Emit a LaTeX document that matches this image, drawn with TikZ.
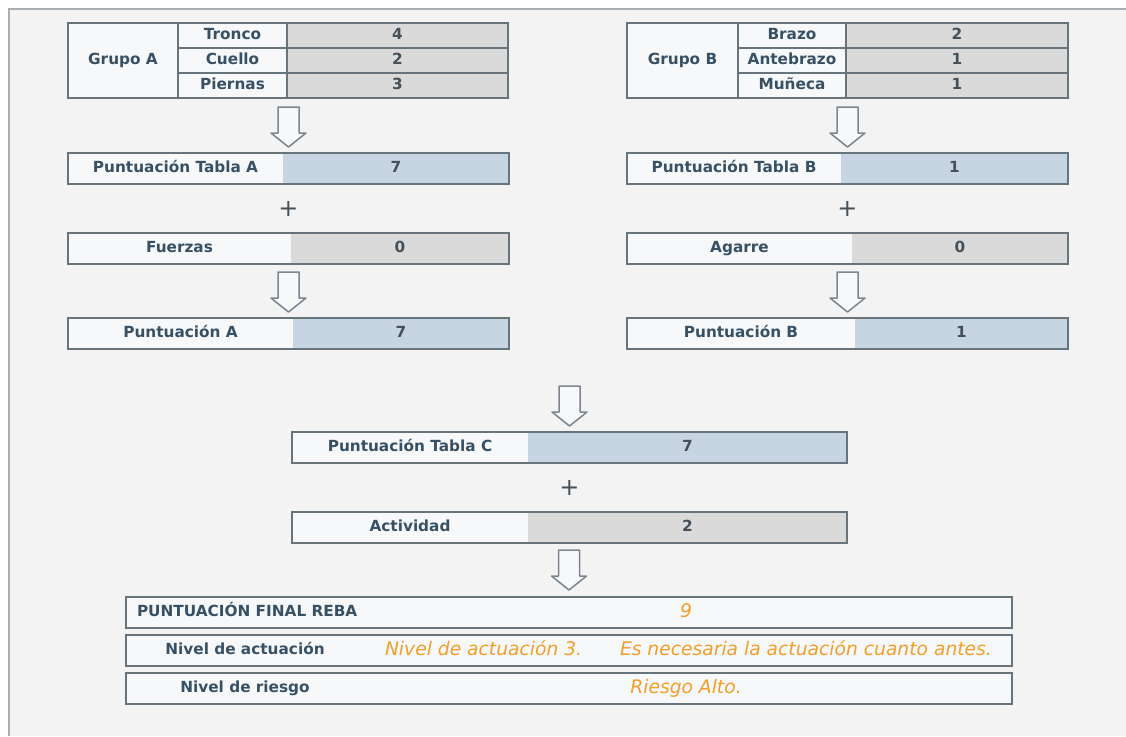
\documentclass[tikz,border=0pt]{standalone}
\usepackage{fontspec}
\setmainfont{DejaVu Sans}
\usepackage{tikz}
\usetikzlibrary{calc}
\usetikzlibrary{positioning}
\definecolor{framegray}{RGB}{168,173,178}
\definecolor{pagebg}{RGB}{243,243,243}
\definecolor{cellline}{RGB}{104,116,124}
\definecolor{labfill}{RGB}{246,248,250}
\definecolor{grayval}{RGB}{218,218,218}
\definecolor{blueval}{RGB}{199,212,225}
\definecolor{labtext}{RGB}{55,80,100}
\definecolor{valtext}{RGB}{70,80,90}
\definecolor{orangetext}{RGB}{242,158,40}
\definecolor{arrowline}{RGB}{125,134,142}
\tikzset{
  lab/.style={font=\bfseries\fontsize{15.3}{17}\selectfont, text=labtext, inner sep=0, outer sep=0, text height=11, text depth=3},
  tabcell/.style={lab, draw=cellline, line width=1.4, fill=labfill, minimum height=25},
  tabval/.style={tabcell, fill=grayval, text=valtext},
  labcell/.style={lab, fill=labfill, minimum height=31},
  valcell/.style={lab, text=valtext, minimum height=31},
  boxline/.style={draw=cellline, line width=1.6},
  orange/.style={font=\itshape\fontsize{18.7}{20}\selectfont, text=orangetext, inner sep=0, outer sep=0, text height=13, text depth=3},
  plussign/.style={font=\fontsize{24}{24}\selectfont, text=valtext, inner sep=0},
  hollowdown/.pic={
    \draw[draw=arrowline, fill=labfill, line width=1.5, line join=round]
      (-10.5,-20) -- (-10.5,6) -- (-17.5,6) -- (0,20) -- (17.5,6) -- (10.5,6) -- (10.5,-20) -- cycle;
  }
}
\begin{document}
\begin{tikzpicture}[x=1pt,y=-1pt]
  \useasboundingbox (0,0) rectangle (1126,736);
  \fill[white] (0,0) rectangle (1126,736);
  \fill[pagebg] (9,9) rectangle (1126,736);
  \draw[framegray, line width=2] (9,736) -- (9,9) -- (1126,9);

  % groups
  \node[tabcell, minimum width=110, minimum height=75, anchor=north west] (grpA) at (68,23) {Grupo A};
  \foreach \i/\part/\val in {0/Tronco/4, 1/Cuello/2, 2/Piernas/3} {
    \node[tabcell, minimum width=109, anchor=north west] (A\i-p) at ($(grpA.north east)+(0,25*\i)$) {\part};
    \node[tabval, minimum width=221, anchor=north west] (A\i-v) at (A\i-p.north east) {\val};
  }
  \node[tabcell, minimum width=111, minimum height=75, anchor=north west] (grpB) at (627,23) {Grupo B};
  \foreach \i/\part/\val in {0/Brazo/2, 1/Antebrazo/1, 2/Muñeca/1} {
    \node[tabcell, minimum width=108, anchor=north west] (B\i-p) at ($(grpB.north east)+(0,25*\i)$) {\part};
    \node[tabval, minimum width=222, anchor=north west] (B\i-v) at (B\i-p.north east) {\val};
  }

  % score rows
  \foreach \nm/\xl/\yt/\xs/\xr/\lab/\val/\fc in {
    tabA/68/153/283/509/{Puntuación Tabla A}/7/blueval,
    fuerzas/68/233/291/509/Fuerzas/0/grayval,
    puntA/68/318/293/509/{Puntuación A}/7/blueval,
    tabB/627/153/841/1068/{Puntuación Tabla B}/1/blueval,
    agarre/627/233/852/1068/Agarre/0/grayval,
    puntB/627/318/855/1068/{Puntuación B}/1/blueval,
    tabC/292/432/528/847/{Puntuación Tabla C}/7/blueval,
    activ/292/512/528/847/Actividad/2/grayval%
  } {
    \node[labcell, minimum width={\xs-\xl}, anchor=north west] (\nm-l) at (\xl,\yt) {\lab};
    \node[valcell, fill=\fc, minimum width={\xr-\xs}, anchor=north west] (\nm-v) at (\nm-l.north east) {\val};
    \draw[boxline] (\nm-l.north west) rectangle (\nm-v.south east);
  }

  % final result
  \foreach \nm/\yt in {final/597, nivel/635, riesgo/673} {
    \node[labcell, boxline, minimum width=886, anchor=north west] (\nm) at (126,\yt) {};
  }
  \node[lab, anchor=west] (final-l) at ($(final.west)+(11,0)$) {PUNTUACIÓN FINAL REBA};
  \node[orange] (final-v) at ($(final.west)+(560,0)$) {9};
  \node[lab] (nivel-l) at ($(nivel.west)+(119,0)$) {Nivel de actuación};
  \node[orange, anchor=west] (nivel-v) at ($(nivel.west)+(259,0)$) {Nivel de actuación 3.};
  \node[orange, anchor=west] (nivel-w) at ($(nivel.west)+(494,0)$) {Es necesaria la actuación cuanto antes.};
  \node[lab] (riesgo-l) at ($(riesgo.west)+(119,0)$) {Nivel de riesgo};
  \node[orange] (riesgo-v) at ($(riesgo.west)+(560,0)$) {Riesgo Alto.};

  % plus signs and arrows
  \node[plussign] (plusA) at ($(tabA-l.south west)!0.5!(fuerzas-v.north east)$) {+};
  \node[plussign] (plusB) at ($(tabB-l.south west)!0.5!(agarre-v.north east)$) {+};
  \node[plussign] (plusC) at ($(tabC-l.south west)!0.5!(activ-v.north east)$) {+};
  \pic at ($(tabA-l.north west)!0.5!(tabA-v.north east)+(0,-26)$) {hollowdown};
  \pic at ($(puntA-l.north west)!0.5!(puntA-v.north east)+(0,-26)$) {hollowdown};
  \pic at ($(tabB-l.north west)!0.5!(tabB-v.north east)+(0,-26)$) {hollowdown};
  \pic at ($(puntB-l.north west)!0.5!(puntB-v.north east)+(0,-26)$) {hollowdown};
  \pic at ($(tabC-l.north west)!0.5!(tabC-v.north east)+(0,-26)$) {hollowdown};
  \pic at ($(final.north)+(0,-27)$) {hollowdown};
\end{tikzpicture}
\end{document}
